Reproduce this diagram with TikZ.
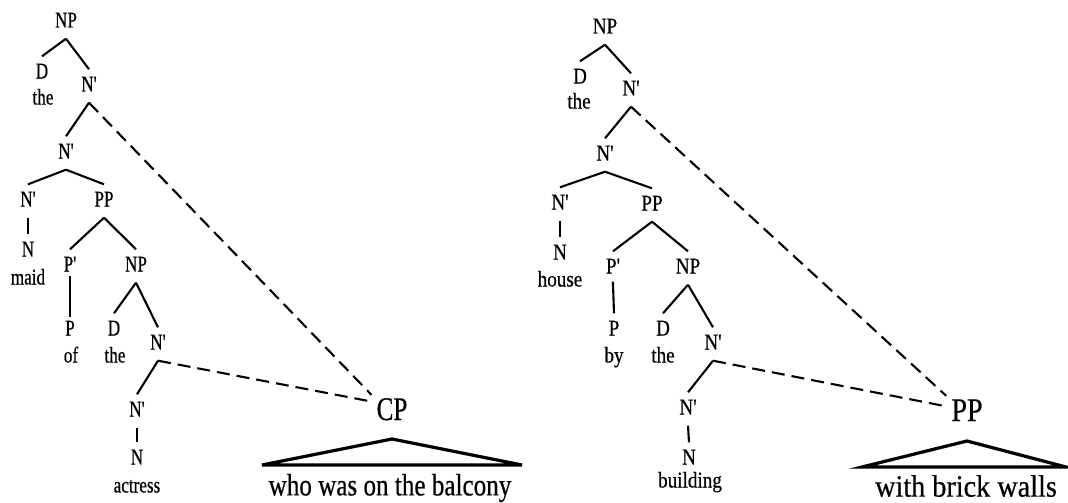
\documentclass[tikz,border=0pt]{standalone}
\usepackage{fontspec}
\setmainfont{Liberation Serif}
\newfontfamily\lefttree[FakeStretch=0.76,FakeBold=0.5]{Liberation Serif}
\newfontfamily\leftwords[FakeStretch=0.81,FakeBold=0.5]{Liberation Serif}
\newfontfamily\righttree[FakeStretch=0.85,FakeBold=0.5]{Liberation Serif}
\newfontfamily\rightwords[FakeStretch=0.91,FakeBold=0.5]{Liberation Serif}
\usetikzlibrary{calc}
\tikzset{
  treefont/.code={\def\treefont{#1}},
  wordfont/.code={\def\wordfont{#1}},
  lab/.style={font=\treefont\fontsize{22.5}{24}\selectfont,text height=14pt,
              text depth=3pt,inner xsep=2pt,inner ysep=8pt},
  cat/.style={font=\treefont\fontsize{33}{36}\selectfont,text height=22pt,
              text depth=0pt,inner xsep=5pt,inner ysep=3pt},
  phrase/.style={font=\wordfont\fontsize{31}{34}\selectfont,inner sep=0pt},
  br/.style={line width=2.1pt},
  mv/.style={line width=2.1pt,dash pattern=on 13pt off 7pt},
  tri/.style={line width=3.2pt,line join=miter},
}
\begin{document}
\begin{tikzpicture}[x=1pt,y=-1pt]
  \useasboundingbox (0,0) rectangle (1068,503);

  % the maid of the actress who was on the balcony
  \begin{scope}[treefont=\lefttree,wordfont=\leftwords]
    \node[lab] (lNP) at (66,22) {NP};
    \node[lab] (lD) at (42,73) {D};
    \node[lab] (lthe) at (43,99) {the};
    \node[lab] (lNb) at (89,86) {N'};
    \node[lab] (lNbb) at (66,153) {N'};
    \node[lab] (lNbc) at (28,201) {N'};
    \node[lab] (lN) at (28,251) {N};
    \node[lab] (lmaid) at (28,279) {maid};
    \node[lab] (lPP) at (104,201) {PP};
    \node[lab] (lPb) at (70,266) {P'};
    \node[lab] (lP) at (70,330) {P};
    \node[lab] (lof) at (71,357) {of};
    \node[lab] (lNPb) at (136,266) {NP};
    \node[lab] (lDb) at (114,330) {D};
    \node[lab] (ltheb) at (115,357) {the};
    \node[lab] (lNbd) at (158,344) {N'};
    \node[lab] (lNbe) at (137,411) {N'};
    \node[lab] (lNc) at (137,459) {N};
    \node[lab] (lactress) at (137,487) {actress};
    \node[cat] (lCP) at (392,409) {CP};
    \node[phrase] (lwho) at (390,488) {who was on the balcony};
    \coordinate (lTop) at (392,439);
    \coordinate (lLeft) at (262,465);
    \coordinate (lRight) at (522,465);

    \draw[br] (lNP.south) -- (lD.north);
    \draw[br] (lNP.south) -- (lNb.north);
    \draw[br] (lNb.south) -- (lNbb.north);
    \draw[br] (lNbb.south) -- (lNbc.north);
    \draw[br] (lNbb.south) -- (lPP.north);
    \draw[br] (lNbc.south) -- (lN.north);
    \draw[br] (lPP.south) -- (lPb.north);
    \draw[br] (lPP.south) -- (lNPb.north);
    \draw[br,shorten <=-7pt,shorten >=-4pt] (lPb.south) -- (lP.north);
    \draw[br] (lNPb.south) -- (lDb.north);
    \draw[br] (lNPb.south) -- (lNbd.north);
    \draw[br] (lNbd.south) -- (lNbe.north);
    \draw[br] (lNbe.south) -- (lNc.north);
    \draw[mv] (lNb.south) -- (lCP.north west);
    \draw[mv] (lNbd.south) -- (lCP.160);
    \draw[tri] (lLeft) -- (lTop) -- (lRight) -- cycle;
  \end{scope}

  % the house by the building with brick walls
  \begin{scope}[treefont=\righttree,wordfont=\rightwords]
    \node[lab] (rNP) at (605,28) {NP};
    \node[lab] (rD) at (580,78) {D};
    \node[lab] (rthe) at (579,103) {the};
    \node[lab] (rNb) at (631,90) {N'};
    \node[lab] (rNbb) at (605,155) {N'};
    \node[lab] (rNbc) at (560,204) {N'};
    \node[lab] (rN) at (560,254) {N};
    \node[lab] (rhouse) at (560,281) {house};
    \node[lab] (rPP) at (652,205) {PP};
    \node[lab] (rPb) at (613,268) {P'};
    \node[lab] (rP) at (614,330) {P};
    \node[lab] (rby) at (614,357) {by};
    \node[lab] (rNPb) at (688,268) {NP};
    \node[lab] (rDb) at (663,330) {D};
    \node[lab] (rtheb) at (663,357) {the};
    \node[lab] (rNbd) at (713,344) {N'};
    \node[lab] (rNbe) at (688,409) {N'};
    \node[lab] (rNc) at (689,459) {N};
    \node[lab] (rbuilding) at (690,482) {building};
    \node[cat] (rPPc) at (967,410) {PP};
    \node[phrase] (rwith) at (966,486) {with brick walls};
    \coordinate (rTop) at (967,441);
    \coordinate (rLeft) at (862,467);
    \coordinate (rRight) at (1066,467);

    \draw[br] (rNP.south) -- (rD.north);
    \draw[br] (rNP.south) -- (rNb.north);
    \draw[br] (rNb.south) -- (rNbb.north);
    \draw[br] (rNbb.south) -- (rNbc.north);
    \draw[br] (rNbb.south) -- (rPP.north);
    \draw[br] (rNbc.south) -- (rN.north);
    \draw[br] (rPP.south) -- (rPb.north);
    \draw[br] (rPP.south) -- (rNPb.north);
    \draw[br,shorten <=-3pt] (rPb.south) -- (rP.north);
    \draw[br] (rNPb.south) -- (rDb.north);
    \draw[br] (rNPb.south) -- (rNbd.north);
    \draw[br] (rNbd.south) -- (rNbe.north);
    \draw[br] (rNbe.south) -- (rNc.north);
    \draw[mv] (rNb.south) -- (rPPc.north west);
    \draw[mv] (rNbd.south) -- (rPPc.170);
    \draw[tri] (rLeft) -- (rTop) -- (rRight) -- cycle;
  \end{scope}
\end{tikzpicture}
\end{document}
